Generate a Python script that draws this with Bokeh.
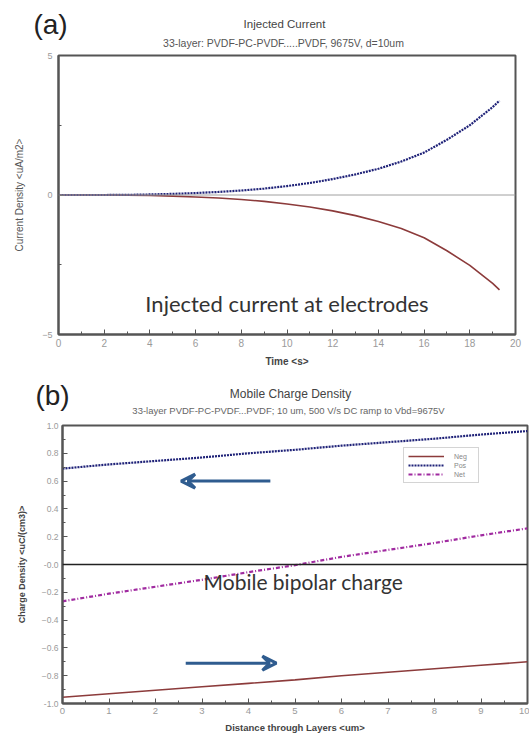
from bokeh.plotting import figure
from bokeh.models import FixedTicker, Label, Span, Arrow, VeeHead, Legend, LegendItem, Range1d
from bokeh.core.properties import value
from bokeh.embed import file_html
from bokeh.resources import INLINE

# ---------------- data: panel (a) ----------------
time_s = [0, 1, 2, 3, 4, 5, 6, 7, 8, 9, 10, 11, 12, 13, 14, 15, 16, 17, 18, 19, 19.3]
inj_pos = [0, 0, 0, 0.005, 0.02, 0.04, 0.07, 0.11, 0.16, 0.23, 0.32, 0.43, 0.57, 0.74,
           0.94, 1.2, 1.52, 1.98, 2.5, 3.15, 3.38]
inj_neg = [0, 0, 0, -0.005, -0.02, -0.04, -0.07, -0.11, -0.16, -0.23, -0.32, -0.43, -0.57, -0.74,
           -0.95, -1.2, -1.53, -2.0, -2.52, -3.17, -3.4]
a_xticks = [0, 2, 4, 6, 8, 10, 12, 14, 16, 18, 20]
a_xminor = [1, 3, 5, 7, 9, 11, 13, 15, 17, 19]
a_yticks = [-5, 0, 5]
a_yminor = [-2.5, 2.5]

# ---------------- data: panel (b) ----------------
dist_um = [0, 1, 2, 3, 4, 5, 6, 7, 8, 9, 10]
rho_neg = [-0.955, -0.93, -0.905, -0.88, -0.855, -0.83, -0.80, -0.775, -0.75, -0.725, -0.70]
rho_pos = [0.69, 0.72, 0.745, 0.77, 0.80, 0.825, 0.855, 0.88, 0.905, 0.935, 0.96]
rho_net = [-0.265, -0.21, -0.16, -0.11, -0.055, -0.005, 0.055, 0.105, 0.155, 0.21, 0.26]
b_xticks = [0, 1, 2, 3, 4, 5, 6, 7, 8, 9, 10]
b_xminor = [0.5, 1.5, 2.5, 3.5, 4.5, 5.5, 6.5, 7.5, 8.5, 9.5]
b_yticks = [-1.0, -0.8, -0.6, -0.4, -0.2, 0, 0.2, 0.4, 0.6, 0.8, 1.0]
b_yminor = [-0.9, -0.7, -0.5, -0.3, -0.1, 0.1, 0.3, 0.5, 0.7, 0.9]

# header texts
head_a = ["(a)", "Injected Current", "33-layer: PVDF-PC-PVDF.....PVDF, 9675V, d=10um"]
head_b = ["(b)", "Mobile Charge Density",
          "33-layer PVDF-PC-PVDF...PVDF; 10 um, 500 V/s DC ramp to Vbd=9675V"]

# annotation arrows (data coords of panel b)
arrow_top = (4.47, 0.60, 2.55, 0.60)
arrow_bot = (2.65, -0.71, 4.6, -0.71)

FONT = "Liberation Sans"
ANN_FONT = "Lato"
RED = "#8c3b3b"
BLUE = "#1f2278"
PURPLE = "#a02aa0"
FRAME = "#555555"


def header(h, texts, pos, sizes, colors):
    f = figure(width=529, height=h, x_range=Range1d(0, 529), y_range=Range1d(h, 0),
               output_backend="svg", toolbar_location=None,
               min_border=0, min_border_left=0, min_border_right=0,
               min_border_top=0, min_border_bottom=0)
    f.axis.visible = False
    f.grid.visible = False
    f.outline_line_color = None
    for t, (x, y), s, c in zip(texts, pos, sizes, colors):
        f.text(x=[x], y=[y], text=[t], text_font=value(FONT), text_font_size=s,
               text_color=c, text_align="center", text_baseline="middle")
    return f


def style(p, xt, xm, yt, ym):
    p.xaxis.ticker = FixedTicker(ticks=xt, minor_ticks=xm)
    p.yaxis.ticker = FixedTicker(ticks=yt, minor_ticks=ym)
    for ax in (p.xaxis, p.yaxis):
        ax.major_tick_in = 5
        ax.major_tick_out = 0
        ax.minor_tick_in = 3
        ax.minor_tick_out = 0
        ax.axis_line_color = FRAME
        ax.axis_line_width = 2
        ax.major_tick_line_color = FRAME
        ax.minor_tick_line_color = FRAME
        ax.major_label_text_color = "#9a9a9a"
        ax.major_label_text_font = FONT
        ax.axis_label_text_font = FONT
        ax.axis_label_text_font_style = "normal"
    p.xgrid.visible = False
    p.ygrid.visible = False
    p.outline_line_color = FRAME
    p.outline_line_width = 2
    p.background_fill_color = "white"
    p.border_fill_color = "white"


# ---------------- panel (a) ----------------
ha = header(50, head_a, [(50, 24), (284, 23), (283, 42)],
            ["28px", "11.5px", "10.5px"], ["#222222", "#444444", "#555555"])

pa = figure(width=529, height=325, x_range=(0, 20), y_range=(-5, 5),
            output_backend="svg", toolbar_location=None,
            min_border_left=58, min_border_right=14, min_border_top=5, min_border_bottom=41)
style(pa, a_xticks, a_xminor, a_yticks, a_yminor)
pa.xaxis.axis_label = "Time <s>"
pa.xaxis.axis_label_text_font_size = "10px"
pa.xaxis.axis_label_text_color = "#444444"
pa.xaxis.axis_label_text_font_style = "bold"
pa.xaxis.axis_label_standoff = 6
pa.xaxis.major_label_text_font_size = "10px"
pa.xaxis.major_label_standoff = 4
pa.yaxis.axis_label = "Current Density <uA/m2>"
pa.yaxis.axis_label_text_font_size = "10px"
pa.yaxis.axis_label_text_color = "#555555"
pa.yaxis.axis_label_standoff = 14
pa.yaxis.major_label_text_font_size = "9px"
pa.yaxis.major_label_standoff = 6

pa.add_layout(Span(location=0, dimension="width", line_color="#a0a0a0", line_width=1))
pa.line(time_s, inj_neg, line_color=RED, line_width=1.6)
pa.line(time_s, inj_pos, line_color=BLUE, line_width=2.2, line_dash="2 1")

pa.add_layout(Label(x=10.0, y=-3.9, text="Injected current at electrodes", text_font=ANN_FONT,
                    text_font_size="22px", text_color="#333333",
                    text_align="center", text_baseline="middle"))

# ---------------- panel (b) ----------------
hb = header(45, head_b, [(52, 20), (290, 18), (288, 35)],
            ["28px", "12px", "9.5px"], ["#222222", "#444444", "#666666"])

pb = figure(width=529, height=322, x_range=(0, 10), y_range=(-1, 1),
            output_backend="svg", toolbar_location=None,
            min_border_left=62, min_border_right=2, min_border_top=5, min_border_bottom=39)
style(pb, b_xticks, b_xminor, b_yticks, b_yminor)
pb.yaxis.major_label_overrides = {0: "-0.0", 1: "1.0", -1: "-1.0"}
pb.xaxis.axis_label = "Distance through Layers <um>"
pb.xaxis.axis_label_text_font_size = "9.5px"
pb.xaxis.axis_label_text_color = "#444444"
pb.xaxis.axis_label_text_font_style = "bold"
pb.xaxis.axis_label_standoff = 5
pb.xaxis.major_label_text_font_size = "9.5px"
pb.xaxis.major_label_standoff = 4
pb.yaxis.axis_label = "Charge Density <uC/(cm3)>"
pb.yaxis.axis_label_text_font_size = "9px"
pb.yaxis.axis_label_text_color = "#444444"
pb.yaxis.axis_label_text_font_style = "bold"
pb.yaxis.axis_label_standoff = 12
pb.yaxis.major_label_text_font_size = "8.5px"
pb.yaxis.major_label_standoff = 4

pb.add_layout(Span(location=0, dimension="width", line_color="#222222", line_width=1.5))
r_neg = pb.line(dist_um, rho_neg, line_color=RED, line_width=1.6)
r_pos = pb.line(dist_um, rho_pos, line_color=BLUE, line_width=2.2, line_dash="2 1")
r_net = pb.line(dist_um, rho_net, line_color=PURPLE, line_width=2.2, line_dash="4 2 1 2")

legend = Legend(items=[LegendItem(label="Neg", renderers=[r_neg]),
                       LegendItem(label="Pos", renderers=[r_pos]),
                       LegendItem(label="Net", renderers=[r_net])],
                location=(341, 220), label_text_font=FONT, label_text_font_size="7px",
                label_text_color="#888888", glyph_width=36, glyph_height=8,
                label_height=8, spacing=1, padding=4, margin=0,
                border_line_color="#aaaaaa", border_line_width=1,
                label_standoff=10)
pb.add_layout(legend)

pb.add_layout(Label(x=5.18, y=-0.12, text="Mobile bipolar charge", text_font=ANN_FONT,
                    text_font_size="21px", text_color="#333333",
                    text_align="center", text_baseline="middle"))

ARROW_COLOR = "#2f5c8f"
for (x0, y0, x1, y1) in (arrow_top, arrow_bot):
    pb.add_layout(Arrow(x_start=x0, y_start=y0, x_end=x1, y_end=y1,
                        line_color=ARROW_COLOR, line_width=3,
                        end=VeeHead(size=14, line_color=ARROW_COLOR, line_width=3,
                                    fill_alpha=0)))

open("out.html", "w").write(file_html([ha, pa, hb, pb], INLINE))
